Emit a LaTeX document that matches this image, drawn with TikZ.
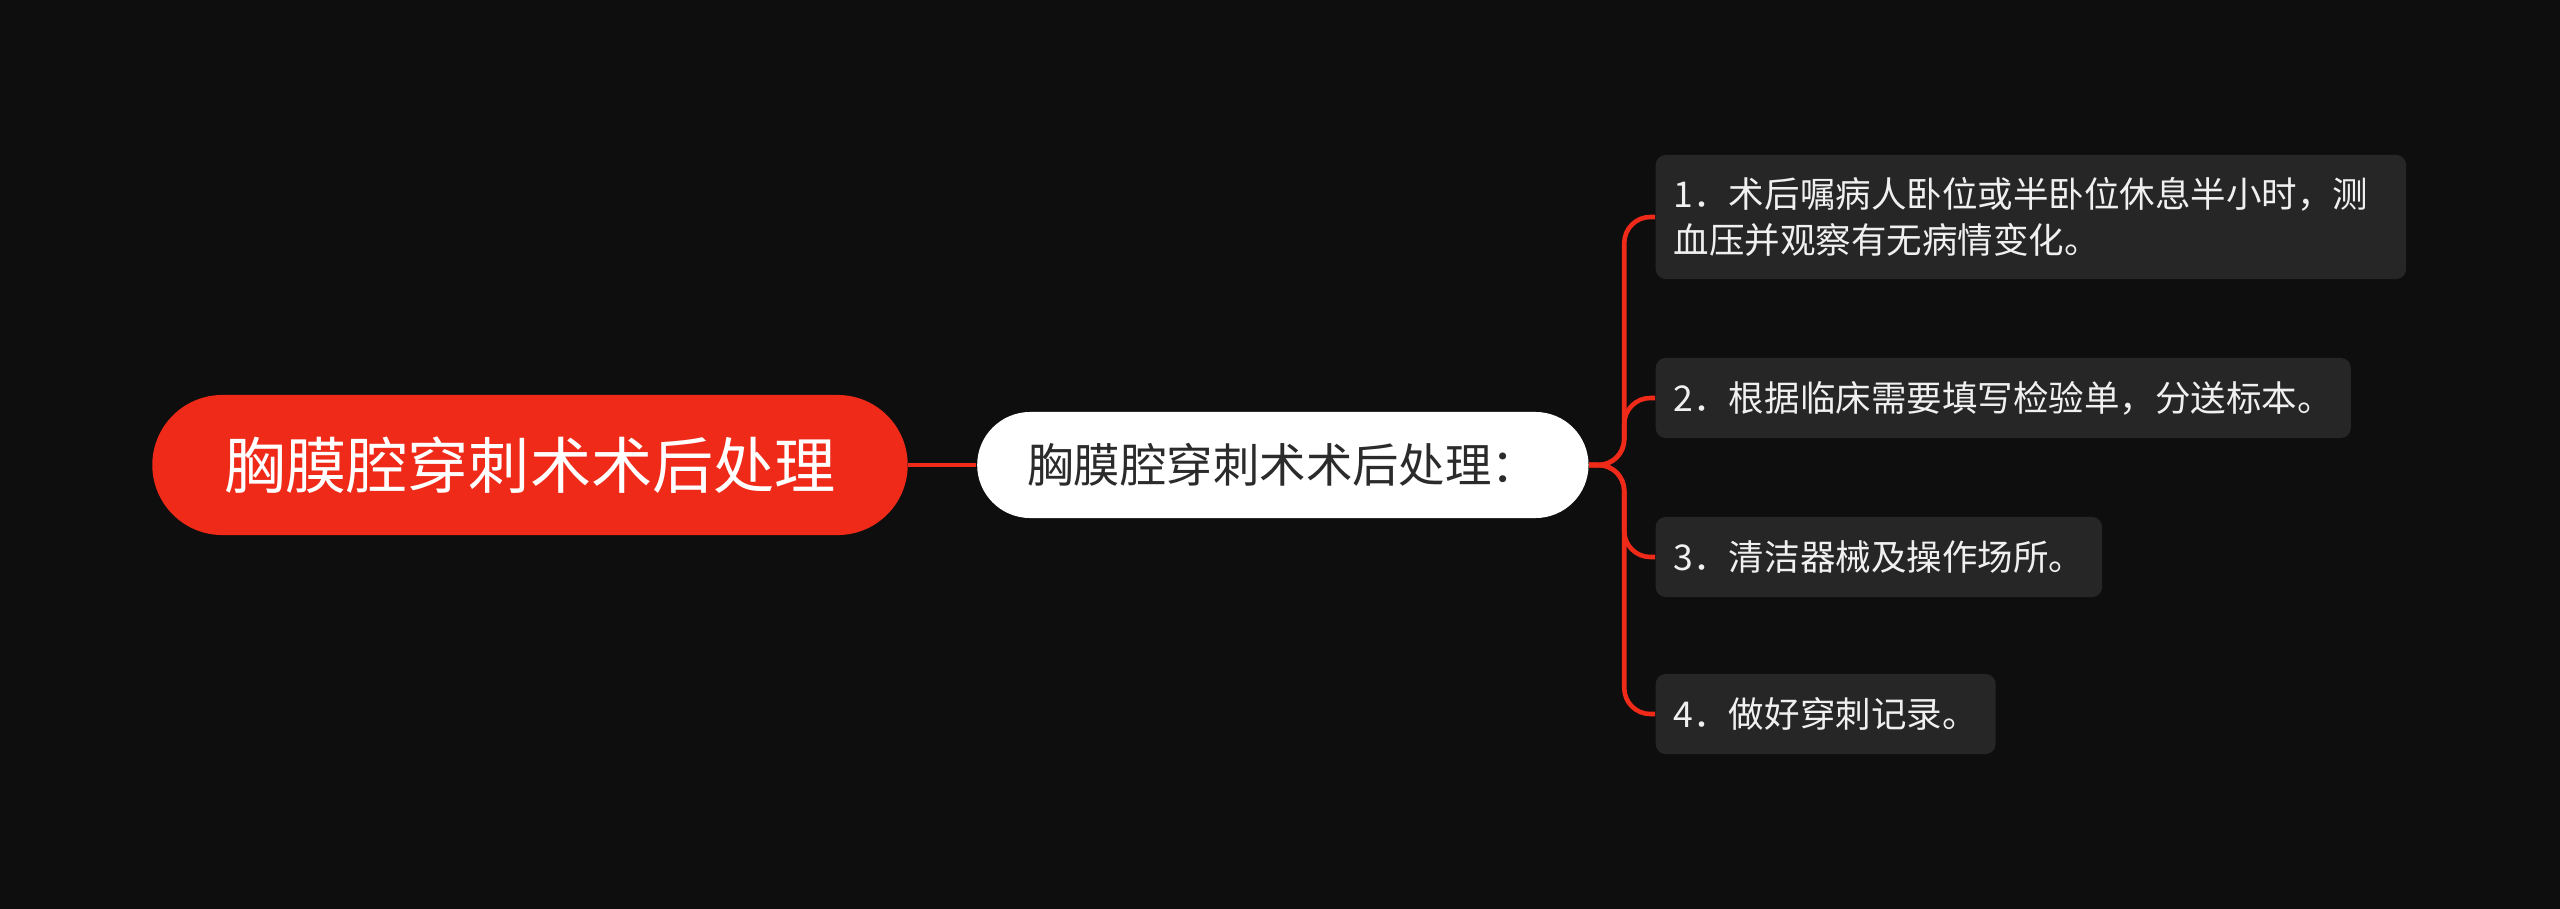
\documentclass[tikz,border=0pt]{standalone}
\usepackage{fontspec}
\setmainfont{Noto Sans CJK SC}
\usetikzlibrary{positioning}
\definecolor{bgblack}{HTML}{0E0E0E}
\definecolor{topicred}{HTML}{EF2A19}
\definecolor{leafgray}{HTML}{262626}
\definecolor{midink}{HTML}{2B2B2B}

\begin{document}
\begin{tikzpicture}[
    x=0.01cm, y=-0.01cm,
    root/.style={fill=topicred, text=white, rounded corners=0.7cm, minimum width=7.55cm, minimum height=1.4cm, font=\fontsize{17.4pt}{20pt}\selectfont},
    sub/.style={fill=white, text=midink, rounded corners=0.53cm, minimum width=6.11cm, minimum height=1.06cm, font=\fontsize{13.2pt}{16pt}\selectfont},
    leaf/.style={fill=leafgray, text=white!94!black, rounded corners=0.1cm, anchor=west, align=left, inner xsep=0.18cm, minimum height=0.8cm, font=\fontsize{10.1pt}{13pt}\selectfont},
    branch/.style={draw=topicred, line width=1.3pt, rounded corners=0.26cm}
]
\fill[bgblack] (0,0) rectangle (2560,909);
\useasboundingbox (0,0) rectangle (2560,909);

\node[root] (root) at (530,465) {胸膜腔穿刺术术后处理};
\node[sub, right=0.68cm of root] (sub) {胸膜腔穿刺术术后处理：};

\node[leaf, minimum height=1.24cm, text width=7.14cm] (c1) at (1655,217) {1．术后嘱病人卧位或半卧位休息半小时，测\\血压并观察有无病情变化。};
\node[leaf] (c2) at (1655,398) {2．根据临床需要填写检验单，分送标本。};
\node[leaf] (c3) at (1655,557) {3．清洁器械及操作场所。};
\node[leaf] (c4) at (1655,714) {4．做好穿刺记录。};

\coordinate (jn) at ([xshift=0.35cm]sub.east);
\draw[branch] (root) -- (sub);
\foreach \c in {c1,c2,c3,c4}
    \draw[branch] (sub.east) -- (jn) |- (\c.west);

\end{tikzpicture}
\end{document}
